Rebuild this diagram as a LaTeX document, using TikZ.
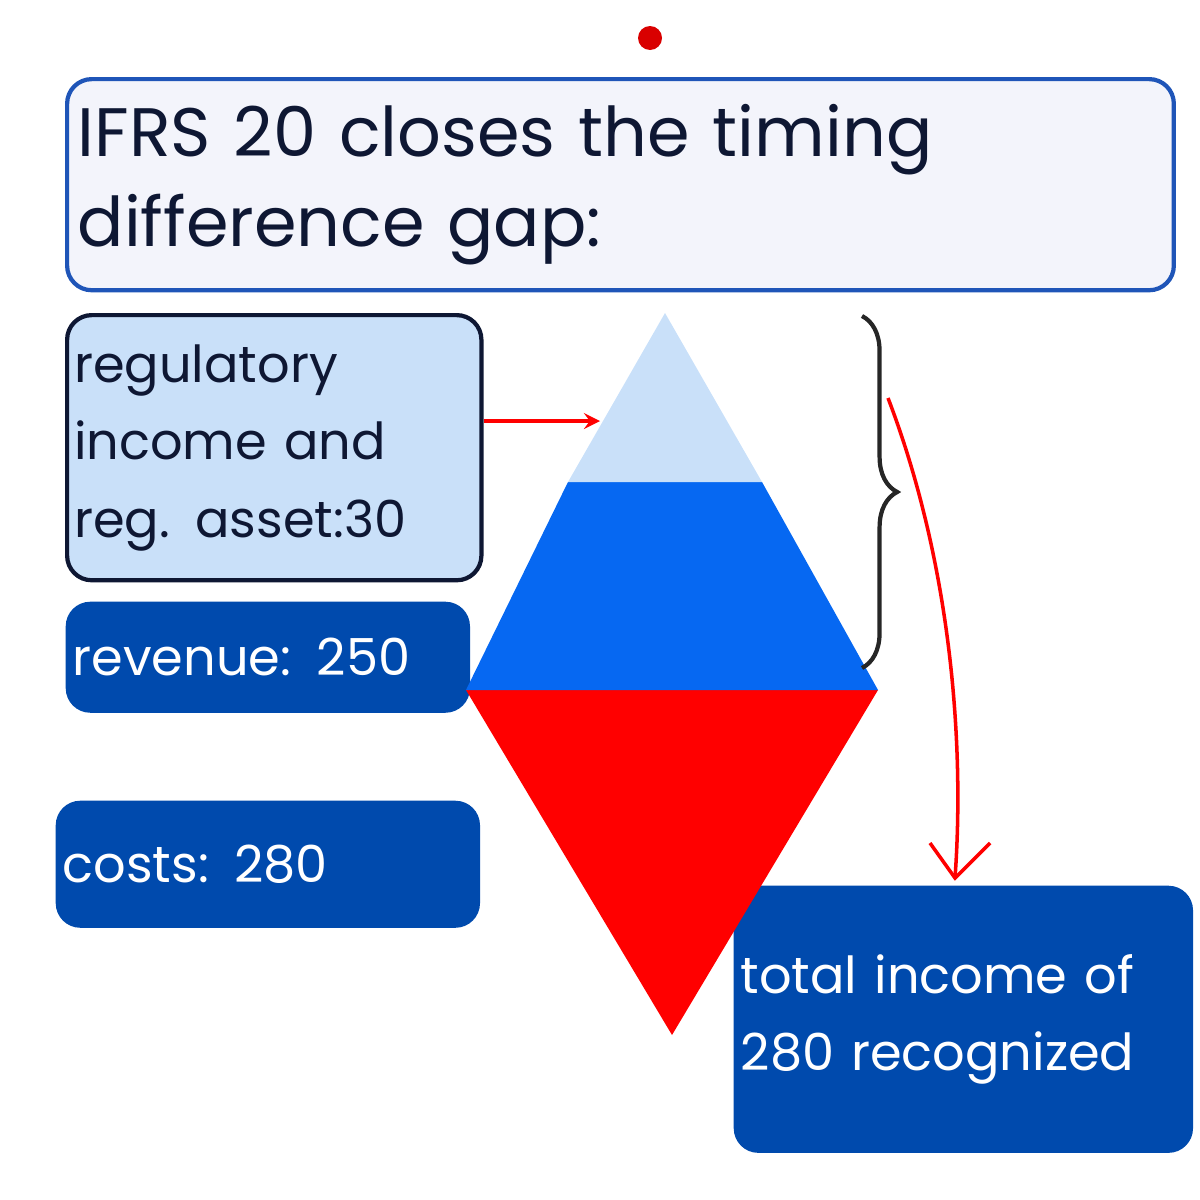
\documentclass[tikz,border=0pt]{standalone}
\usepackage{fontspec}
\setmainfont{Poppins}
\usetikzlibrary{positioning, calc, decorations.pathreplacing}
\definecolor{navy}{HTML}{004AAD}
\definecolor{pale}{HTML}{C9E0F9}
\definecolor{titlebg}{HTML}{F3F4FB}
\definecolor{titleline}{HTML}{1F55B8}
\definecolor{midblue}{HTML}{0668F2}
\definecolor{inkdark}{HTML}{0E1733}
\tikzset{
  darkbox/.style={fill=navy, rounded corners=7pt, text=white, align=left, inner sep=2pt, anchor=north west},
  boxfont/.style={font=\fontsize{14.5}{22}\selectfont}
}
\begin{document}
\begin{tikzpicture}[x=0.01cm, y=-0.01cm]
\useasboundingbox (0,0) rectangle (1200,1200);
\fill[red!85!black] (650,38) circle (12);
\node (title) [draw=titleline, line width=1.2pt, fill=titlebg, rounded corners=7pt, minimum width=11.02cm, minimum height=2.11cm, anchor=north west, text=inkdark, align=left, text width=10.85cm, inner sep=3pt, font=\fontsize{19.5}{25.5}\selectfont] at (65,77) {IFRS 20 closes the timing\\difference gap:};
\node (reg) [draw=inkdark, line width=1.2pt, fill=pale, rounded corners=7pt, minimum width=4.09cm, minimum height=2.65cm, anchor=north west, text=inkdark, align=left, text width=4.0cm, inner sep=2pt, boxfont] at (65,313) {regulatory\\income and\\reg. asset:30};
\node (rev) [darkbox, boxfont, minimum width=4.0cm, minimum height=1.11cm, text width=3.9cm] at (65,601) {revenue: 250};
\node (cost) [darkbox, boxfont, minimum width=4.2cm, minimum height=1.27cm, text width=4.1cm] at (55,800) {costs: 280};
\node (total) [darkbox, boxfont, minimum width=4.52cm, minimum height=2.67cm, text width=4.45cm] at (733,885) {total income of\\280 recognized};
% pyramid
\fill[red] (466,690) -- (878,690) -- (672,1035) -- cycle;
\fill[midblue] (568,482) -- (762,482) -- (878,690) -- (466,690) -- cycle;
\fill[pale] (665,313) -- (762,482) -- (568,482) -- cycle;
\coordinate (apex) at (600,421);
\draw[decorate, decoration={brace, amplitude=10pt}, line width=1.2pt, black!85] (862,316) -- (862,668);
\draw[red, line width=1pt, -stealth] (reg.east |- apex) -- (apex);
\coordinate (c1) at (888,398);
\draw[red, line width=1pt] (c1) .. controls (950,560) and (965,740) .. (955,878);
\draw[red, line width=1pt] (930,843) -- (955,878) -- (990,843);
\end{tikzpicture}
\end{document}
